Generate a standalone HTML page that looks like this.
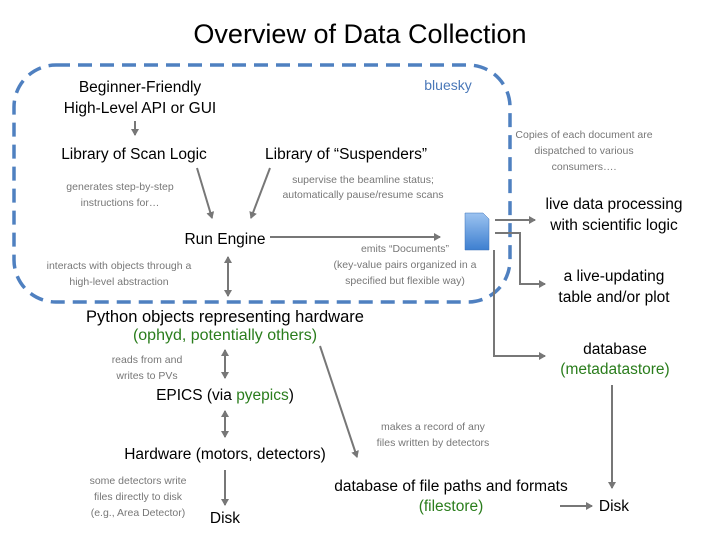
<!DOCTYPE html><html><head><style>body{margin:0;background:#fff}svg{display:block}
text{font-family:"Liberation Sans",sans-serif;text-anchor:middle}
.b{font-size:15.5px;fill:#000}.s{font-size:10.5px;fill:#777}.g{font-size:15.5px;fill:#2a7d1c}</style></head><body>
<svg width="720" height="540" viewBox="0 0 720 540">
<defs><marker id="a" markerWidth="8" markerHeight="8" refX="6" refY="4" orient="auto-start-reverse" markerUnits="userSpaceOnUse"><path d="M0,0 L7,4 L0,8 Z" fill="#777"/></marker>
<linearGradient id="dg" x1="0" y1="0" x2="0" y2="1"><stop offset="0" stop-color="#9cc3f0"/><stop offset="1" stop-color="#3d7fd0"/></linearGradient></defs>
<text x="360" y="43" style="font-size:27px">Overview of Data Collection</text>
<rect x="14" y="65" width="496" height="237" rx="42" fill="none" stroke="#4f80c0" stroke-width="3.5" stroke-dasharray="14,8"/>
<text x="448" y="90" style="font-size:14px;fill:#4a78b8">bluesky</text>
<g stroke="#777" stroke-width="2" fill="none" marker-end="url(#a)">
<line x1="135" y1="121" x2="135" y2="135"/>
<line x1="197" y1="168" x2="212" y2="218"/>
<line x1="270" y1="168" x2="251" y2="218"/>
<line x1="270" y1="237" x2="440" y2="237"/>
<line x1="228" y1="257" x2="228" y2="296" marker-start="url(#a)"/>
<line x1="225" y1="350" x2="225" y2="378" marker-start="url(#a)"/>
<line x1="225" y1="411" x2="225" y2="437" marker-start="url(#a)"/>
<line x1="225" y1="470" x2="225" y2="505"/>
<line x1="320" y1="346" x2="357" y2="457"/>
<line x1="560" y1="506" x2="592" y2="506"/>
<line x1="495" y1="220" x2="535" y2="220"/>
<polyline points="495,233 520,233 520,284 545,284"/>
<polyline points="494,250 494,356 545,356"/>
<line x1="612" y1="385" x2="612" y2="488"/>
</g>
<path d="M465,213 h18 l6,6 v31 h-24 Z" fill="url(#dg)" stroke="#3a70b8" stroke-width="0.5"/>
<text class="b" x="140" y="92">Beginner-Friendly</text>
<text class="b" x="140" y="113">High-Level API or GUI</text>
<text class="b" x="134" y="159">Library of Scan Logic</text>
<text class="b" x="346" y="159">Library of “Suspenders”</text>
<text class="s" x="120" y="190">generates step-by-step</text>
<text class="s" x="120" y="206">instructions for…</text>
<text class="s" x="363" y="183">supervise the beamline status;</text>
<text class="s" x="363" y="198">automatically pause/resume scans</text>
<text class="b" x="225" y="244">Run Engine</text>
<text class="s" x="405" y="252">emits “Documents”</text>
<text class="s" x="405" y="268">(key-value pairs organized in a</text>
<text class="s" x="405" y="284">specified but flexible way)</text>
<text class="s" x="119" y="269">interacts with objects through a</text>
<text class="s" x="119" y="285">high-level abstraction</text>
<text class="b" x="225" y="322" style="font-size:16.5px">Python objects representing hardware</text>
<text class="g" x="225" y="340" style="font-size:16px">(ophyd, potentially others)</text>
<text class="s" x="147" y="363">reads from and</text>
<text class="s" x="147" y="379">writes to PVs</text>
<text class="b" x="225" y="400">EPICS (via <tspan fill="#2a7d1c">pyepics</tspan>)</text>
<text class="b" x="225" y="459">Hardware (motors, detectors)</text>
<text class="s" x="138" y="484">some detectors write</text>
<text class="s" x="138" y="500">files directly to disk</text>
<text class="s" x="138" y="516">(e.g., Area Detector)</text>
<text class="b" x="225" y="523">Disk</text>
<text class="s" x="433" y="430">makes a record of any</text>
<text class="s" x="433" y="446">files written by detectors</text>
<text class="b" x="451" y="491">database of file paths and formats</text>
<text class="g" x="451" y="511">(filestore)</text>
<text class="b" x="614" y="511">Disk</text>
<text class="s" x="584" y="138">Copies of each document are</text>
<text class="s" x="584" y="154">dispatched to various</text>
<text class="s" x="584" y="170">consumers….</text>
<text class="b" x="614" y="209">live data processing</text>
<text class="b" x="614" y="230">with scientific logic</text>
<text class="b" x="614" y="281">a live-updating</text>
<text class="b" x="614" y="302">table and/or plot</text>
<text class="b" x="615" y="354">database</text>
<text class="g" x="615" y="374">(metadatastore)</text>
</svg></body></html>
